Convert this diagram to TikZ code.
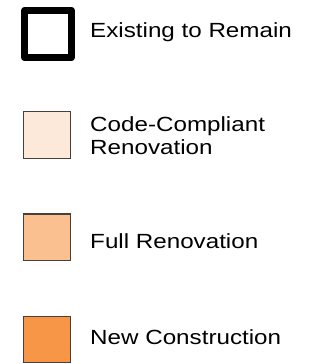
\documentclass[tikz,border=0pt]{standalone}
\usepackage{fontspec}
\setmainfont{Liberation Sans}
\definecolor{ccr}{HTML}{FDE9D9}
\definecolor{fr}{HTML}{FAC090}
\definecolor{nc}{HTML}{F79646}
\definecolor{edge}{HTML}{4A4038}
\begin{document}
\begin{tikzpicture}[x=1pt,y=-1pt,
  swatch/.style={draw=edge,line width=1.3pt},
  lbl/.style={anchor=base west,inner sep=0pt,font=\fontsize{20.5}{22.4}\selectfont,align=left,xscale=1.18,transform shape}]
\useasboundingbox (0,0) rectangle (323,364);
\draw[line width=7pt,line join=round] (24.7,10.3) rectangle (71.3,57.8);
\node[lbl] (t1) at (90,37) {Existing to Remain};
\draw[swatch,fill=ccr] (23.7,111.7) rectangle (70.7,158.3);
\node[lbl] (t2) at (90,154) {Code-Compliant\\Renovation};
\draw[swatch,fill=fr] (23.7,214) rectangle (70.7,260.7);
\node[lbl] (t3) at (90,248.3) {Full Renovation};
\draw[swatch,fill=nc] (23.7,316.3) rectangle (70.7,362.3);
\node[lbl] (t4) at (90,344.3) {New Construction};
\end{tikzpicture}
\end{document}
